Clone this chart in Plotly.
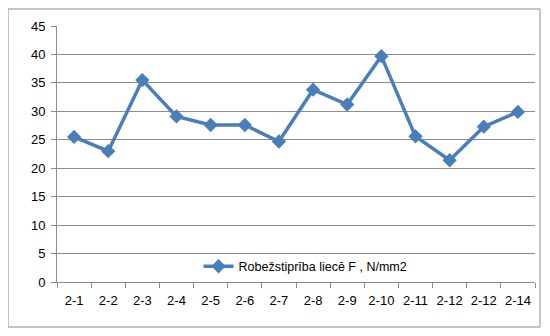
import plotly.graph_objects as go

categories = ["2-1", "2-2", "2-3", "2-4", "2-5", "2-6", "2-7", "2-8", "2-9", "2-10", "2-11", "2-12", "2-12", "2-14"]
values = [25.5, 23.0, 35.5, 29.1, 27.6, 27.6, 24.7, 33.8, 31.2, 39.7, 25.6, 21.4, 27.3, 29.9]
series_name = "Robežstiprība liecē F , N/mm2"
y_ticks = [0, 5, 10, 15, 20, 25, 30, 35, 40, 45]

x_pos = list(range(len(categories)))
line_color = "#4a7ebb"
grid_color = "#8c8c8c"
font = dict(family="Liberation Sans, Arial, sans-serif", size=13, color="#000000")

fig = go.Figure()
fig.add_trace(go.Scatter(
    x=x_pos, y=values, name=series_name, mode="lines+markers",
    line=dict(color=line_color, width=3.5),
    marker=dict(symbol="diamond", size=11, color=line_color),
))

fig.update_layout(
    width=542, height=328,
    margin=dict(l=49, r=15, t=18, b=54),
    paper_bgcolor="white", plot_bgcolor="white",
    font=font,
    showlegend=True,
    legend=dict(x=0.52, y=0.06, xanchor="center", yanchor="middle",
                bgcolor="rgba(255,255,255,0)", font=dict(size=12.5)),
    xaxis=dict(
        range=[-0.5, len(categories) - 0.5], automargin=False,
        tickmode="array", tickvals=x_pos, ticktext=categories,
        ticks="", showgrid=False, zeroline=False,
        showline=True, linecolor=grid_color, linewidth=1,
        ticklabelstandoff=6,
        minor=dict(tickmode="linear", tick0=0.5, dtick=1, ticks="outside",
                   ticklen=5, tickcolor=grid_color, showgrid=False),
        tickfont=dict(size=13),
    ),
    yaxis=dict(
        range=[0, 45], tickmode="array", tickvals=y_ticks, automargin=False,
        showgrid=True, gridcolor=grid_color, gridwidth=1,
        zeroline=False, showline=True, linecolor=grid_color, linewidth=1,
        ticks="outside", ticklen=5, tickcolor=grid_color,
        ticklabelstandoff=3,
        tickfont=dict(size=13),
    ),
    shapes=[dict(type="rect", xref="paper", yref="paper",
                 x0=-0.1025, x1=1.0105, y0=-0.1758, y1=1.0664,
                 line=dict(color="#8c8c8c", width=1), fillcolor="rgba(0,0,0,0)",
                 layer="below")],
)

fig.write_html("out.html")
